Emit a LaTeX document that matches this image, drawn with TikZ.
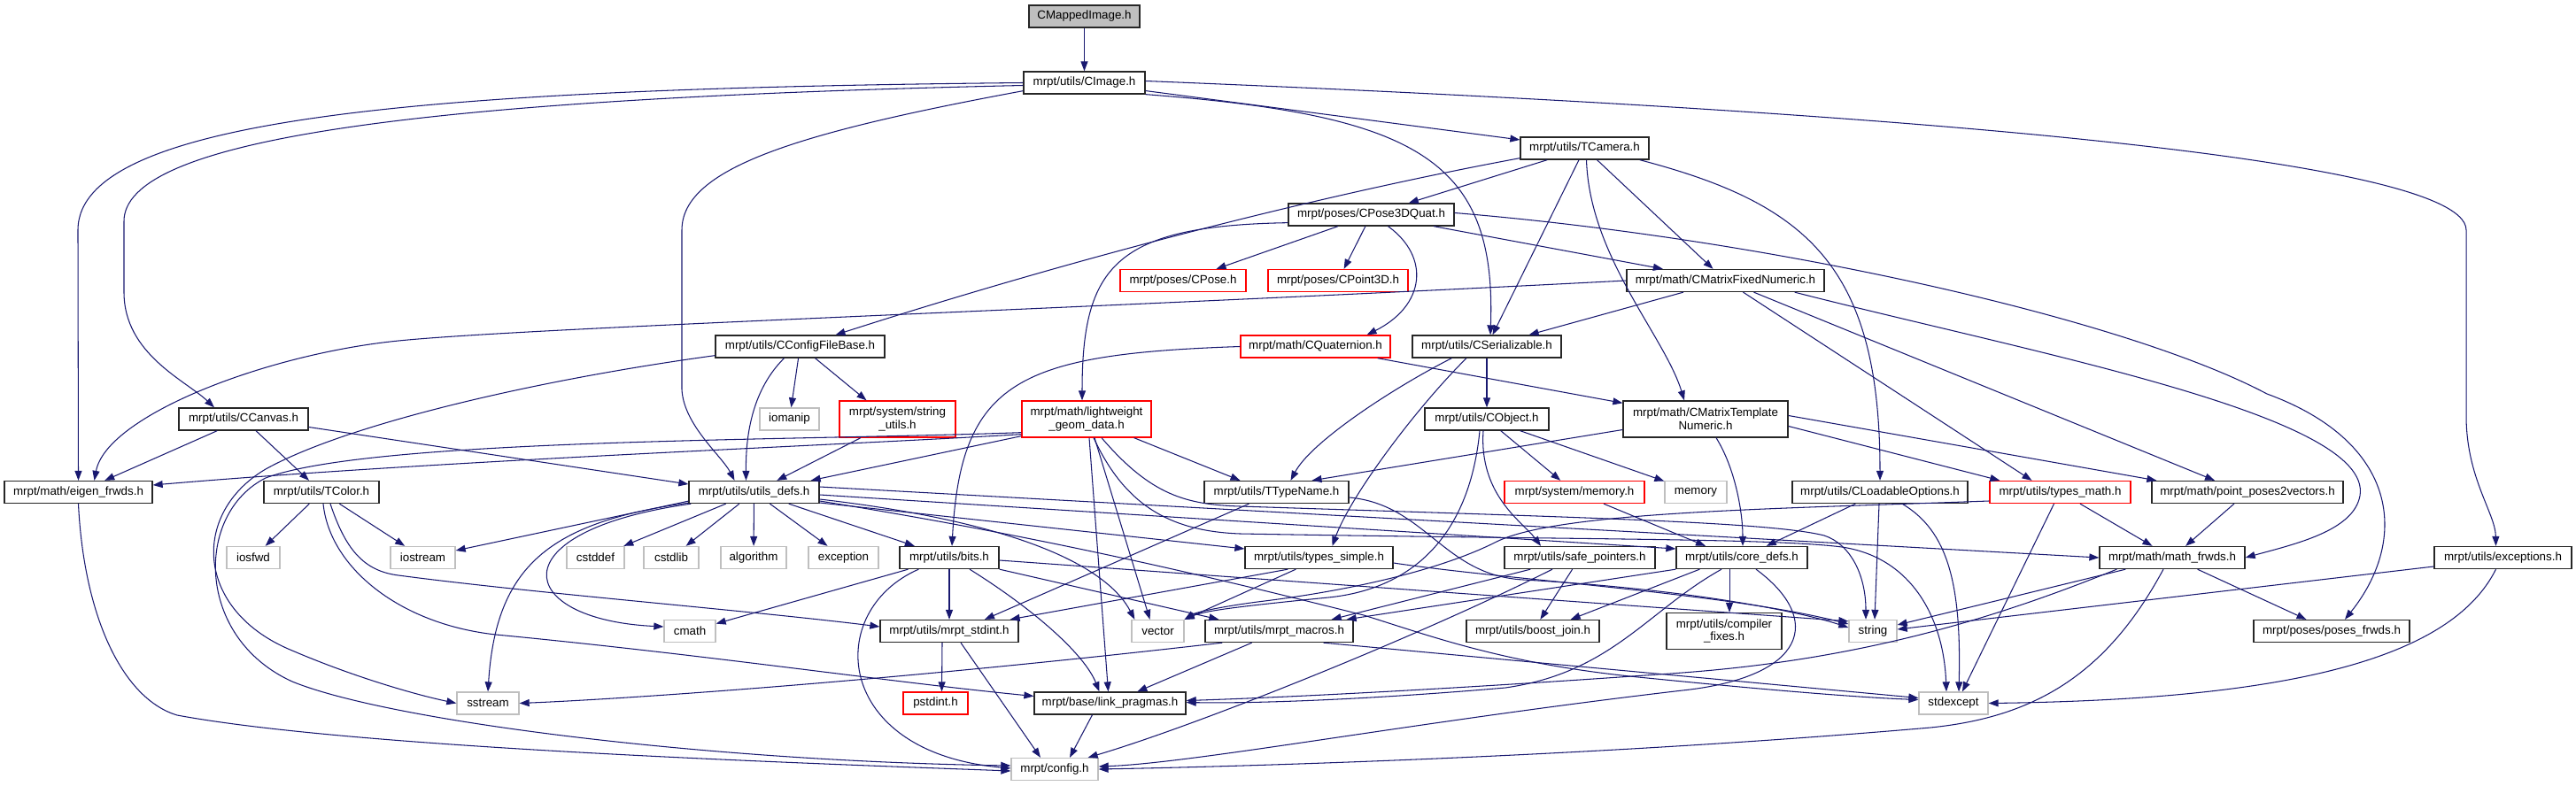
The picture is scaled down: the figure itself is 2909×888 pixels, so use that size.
\documentclass[tikz,border=0pt]{standalone}
\usepackage{fontspec}
\setmainfont{Liberation Sans}
\usetikzlibrary{arrows.meta,calc}
\definecolor{edgeblue}{HTML}{191970}
\definecolor{boxgray}{HTML}{BFBFBF}

\begin{document}
\begin{tikzpicture}[x=0.02cm,y=-0.02cm,
        font=\fontsize{7.6}{8.5}\selectfont,
        box/.style={draw, inner sep=0pt, minimum height=0.5cm, line width=0.75pt},
        hb/.style={box, draw=black!85, fill=white},
        rb/.style={box, draw=red, fill=white},
        sb/.style={box, draw=boxgray, fill=white},
        rt/.style={box, draw=black!85, fill=boxgray},
        two/.style={minimum height=0.82cm, align=center},
        bw/.style={minimum width=#1*0.02cm},
        dep/.style={draw=edgeblue, line width=0.6pt,
                        -{Triangle[length=0.22cm,width=0.16cm]}}]
    \useasboundingbox (0,0) rectangle (2909,888);

    \node[rt,bw=125] (root) at (1224.5,18.5) {CMappedImage.h};
    \node[hb,bw=137] (cimage) at (1224.5,93.5) {mrpt/utils/CImage.h};
    \node[hb,bw=145] (tcamera) at (1789.5,167.5) {mrpt/utils/TCamera.h};
    \node[hb,bw=187] (posequat) at (1548.5,242.5) {mrpt/poses/CPose3DQuat.h};
    \node[rb,bw=142] (cpose) at (1336,317) {mrpt/poses/CPose.h};
    \node[rb,bw=158] (cpoint) at (1511,317) {mrpt/poses/CPoint3D.h};
    \node[hb,bw=223] (cmatfix) at (1948.5,317) {mrpt/math/CMatrixFixedNumeric.h};
    \node[hb,bw=191] (cconfig) at (903.5,391.5) {mrpt/utils/CConfigFileBase.h};
    \node[rb,bw=169] (cquat) at (1485.5,391.5) {mrpt/math/CQuaternion.h};
    \node[hb,bw=168] (cserial) at (1679,391.5) {mrpt/utils/CSerializable.h};
    \node[hb,bw=146] (ccanvas) at (275,473.5) {mrpt/utils/CCanvas.h};
    \node[sb,bw=67] (iomanip) at (891.5,473.5) {iomanip};
    \node[rb,two,bw=131] (strutils) at (1013.5,473.5) {mrpt/system/string\\\_utils.h};
    \node[rb,two,bw=146] (lwgeom) at (1227,473.5) {mrpt/math/lightweight\\\_geom\_data.h};
    \node[hb,bw=140] (cobject) at (1679,473.5) {mrpt/utils/CObject.h};
    \node[hb,two,bw=186] (cmattpl) at (1926,473.5) {mrpt/math/CMatrixTemplate\\Numeric.h};
    \node[hb,bw=167] (eigen) at (88.5,556) {mrpt/math/eigen\_frwds.h};
    \node[hb,bw=130] (tcolor) at (363,556) {mrpt/utils/TColor.h};
    \node[hb,bw=147] (utilsdefs) at (851.5,556) {mrpt/utils/utils\_defs.h};
    \node[hb,bw=163] (ttypename) at (1441.5,556) {mrpt/utils/TTypeName.h};
    \node[rb,bw=158] (memoryh) at (1778,556) {mrpt/system/memory.h};
    \node[sb,bw=70] (memory) at (1915,556) {memory};
    \node[hb,bw=198] (cloadable) at (2123,556) {mrpt/utils/CLoadableOptions.h};
    \node[rb,bw=159] (typesmath) at (2326.5,556) {mrpt/utils/types\_math.h};
    \node[hb,bw=216] (pointposes) at (2538,556) {mrpt/math/point\_poses2vectors.h};
    \node[sb,bw=60] (iosfwd) at (286,630) {iosfwd};
    \node[sb,bw=73] (iostream) at (477.5,630) {iostream};
    \node[sb,bw=65] (cstddef) at (672.5,630) {cstddef};
    \node[sb,bw=62] (cstdlib) at (758,630) {cstdlib};
    \node[sb,bw=74] (algorithm) at (851,630) {algorithm};
    \node[sb,bw=79] (exception) at (952.5,630) {exception};
    \node[hb,bw=112] (bits) at (1072,630) {mrpt/utils/bits.h};
    \node[hb,bw=167] (typessimple) at (1489.5,630) {mrpt/utils/types\_simple.h};
    \node[hb,bw=170] (safeptr) at (1784,630) {mrpt/utils/safe\_pointers.h};
    \node[hb,bw=148] (coredefs) at (1967,630) {mrpt/utils/core\_defs.h};
    \node[hb,bw=164] (mathfrwds) at (2453,630) {mrpt/math/math\_frwds.h};
    \node[hb,bw=155] (exceptions) at (2826.5,630) {mrpt/utils/exceptions.h};
    \node[sb,bw=58] (cmath) at (779,713) {cmath};
    \node[hb,bw=156] (stdint) at (1072,713) {mrpt/utils/mrpt\_stdint.h};
    \node[sb,bw=59] (vector) at (1307.5,713) {vector};
    \node[hb,bw=167] (macros) at (1444.5,713) {mrpt/utils/mrpt\_macros.h};
    \node[hb,bw=150] (boostjoin) at (1731,713) {mrpt/utils/boost\_join.h};
    \node[hb,two,bw=130] (compfixes) at (1947,713) {mrpt/utils/compiler\\\_fixes.h};
    \node[sb,bw=54] (string) at (2115,713) {string};
    \node[hb,bw=176] (posesfrwds) at (2633,713) {mrpt/poses/poses\_frwds.h};
    \node[sb,bw=70] (sstream) at (551,794.5) {sstream};
    \node[rb,bw=73] (pstdint) at (1056.5,794.5) {pstdint.h};
    \node[hb,bw=171] (linkpragmas) at (1253.5,794.5) {mrpt/base/link\_pragmas.h};
    \node[sb,bw=78] (stdexcept) at (2206,794.5) {stdexcept};
    \node[sb,bw=98] (config) at (1191,869) {mrpt/config.h};

    % CMappedImage.h, CImage.h
    \draw[dep] (root) -- (cimage);
    \draw[dep] (cimage.west) .. controls (500,100) and (88,130) .. (88,260) -- (eigen.north);
    \draw[dep] ($(cimage.west)+(0,3)$) .. controls (450,112) and (140,160) .. (140,250) -- (140,330)
        .. controls (140,400) and (210,430) .. ($(ccanvas.north)+(-33,0)$);
    \draw[dep] ($(cimage.south west)+(0,-4)$) .. controls (900,150) and (770,190) .. (770,260) -- (770,440)
        .. controls (772,480) and (815,515) .. ($(utilsdefs.north)+(-22,0)$);
    \draw[dep] (cimage) -- (tcamera);
    \draw[dep] (cimage.south east) .. controls (1600,130) and (1690,180) .. ($(cserial.north)+(4,0)$);
    \draw[dep] ($(cimage.east)+(0,-2)$) .. controls (2000,120) and (2785,170) .. (2785,260) -- (2785,470)
        .. controls (2785,540) and (2818,580) .. ($(exceptions.north)+(-8,0)$);

    % TCamera.h, CPose3DQuat.h
    \draw[dep] ($(tcamera.south west)+(0,-2)$) .. controls (1520,215) and (1250,280) .. ($(cconfig.north)+(40,0)$);
    \draw[dep] (tcamera) -- (posequat);
    \draw[dep] (tcamera) -- (cserial);
    \draw[dep] ($(tcamera.south)+(2,0)$) .. controls (1795,290) and (1880,380) .. ($(cmattpl.north)+(-24,0)$);
    \draw[dep] (tcamera) -- (cmatfix);
    \draw[dep] ($(tcamera.south east)+(-11,0)$) .. controls (2040,230) and (2123,300) .. (cloadable.north);
    \draw[dep] (posequat) -- (cpose);
    \draw[dep] (posequat) -- (cpoint);
    \draw[dep] ($(posequat.south)+(19,0)$) .. controls (1615,290) and (1610,345) .. ($(cquat.north)+(58,0)$);
    \draw[dep] (posequat) -- (cmatfix);
    \draw[dep] ($(posequat.south west)+(0,-4)$) .. controls (1260,255) and (1222,300) .. ($(lwgeom.north)+(-5,0)$);
    \draw[dep] ($(posequat.east)+(0,-2)$) .. controls (2000,270) and (2400,360) .. (2560,445)
        .. controls (2710,500) and (2720,610) .. ($(posesfrwds.north)+(15,0)$);

    % matrices, quaternion, serializable
    \draw[dep] (cmatfix.west) .. controls (1200,350) and (600,370) .. (450,385)
        .. controls (300,400) and (120,470) .. ($(eigen.north)+(18,0)$);
    \draw[dep] (cmatfix) -- (cserial);
    \draw[dep] ($(cmatfix.south)+(20,0)$) -- ($(typesmath.north)+(-32,0)$);
    \draw[dep] ($(cmatfix.south)+(32,0)$) -- ($(pointposes.north)+(-37,0)$);
    \draw[dep] ($(cmatfix.south east)+(-34,0)$) .. controls (2300,400) and (2680,470) .. (2665,560)
        .. controls (2658,600) and (2590,615) .. (mathfrwds.east);
    \draw[dep] (cquat.west) .. controls (1150,400) and (1085,430) .. ($(bits.north)+(3,0)$);
    \draw[dep] ($(cquat.south east)+(-15,0)$) -- ($(cmattpl.north west)+(0,3)$);
    \draw[dep] ($(cserial.south west)+(45,0)$) .. controls (1570,440) and (1480,500) .. ($(ttypename.north)+(16,0)$);
    \draw[dep] ($(cserial.south)+(-23,0)$) .. controls (1600,460) and (1525,560) .. ($(typessimple.north)+(15,0)$);
    \draw[dep] (cserial) -- (cobject);
    \draw[dep] ($(cmattpl.west)+(0,12)$) -- ($(ttypename.north)+(40,0)$);
    \draw[dep] ($(cmattpl.south)+(12,0)$) .. controls (1960,530) and (1968,580) .. ($(coredefs.north)+(1,0)$);
    \draw[dep] ($(cmattpl.east)+(0,-4)$) -- ($(pointposes.north west)+(6,0)$);
    \draw[dep] ($(cmattpl.east)+(0,8)$) -- ($(typesmath.north west)+(12,0)$);

    % config file, canvas, colour
    \draw[dep] (cconfig) -- (iomanip);
    \draw[dep] ($(cconfig.south)+(17,0)$) -- ($(strutils.north)+(-35,0)$);
    \draw[dep] ($(cconfig.south)+(-18,0)$) .. controls (850,440) and (842,490) .. ($(utilsdefs.north)+(-9,0)$);
    \draw[dep] ($(cconfig.south west)+(0,-3)$) .. controls (600,430) and (390,480) .. (300,530)
        .. controls (215,580) and (220,690) .. (330,735) .. controls (400,765) and (470,785) .. (sstream.west);
    \draw[dep] (strutils) -- (utilsdefs);
    \draw[dep] (ccanvas) -- (eigen);
    \draw[dep] (ccanvas) -- (tcolor);
    \draw[dep] ($(ccanvas.east)+(0,9)$) -- ($(utilsdefs.west)+(0,-9)$);
    \draw[dep] (tcolor) -- (iosfwd);
    \draw[dep] (tcolor) -- (iostream);
    \draw[dep] ($(tcolor.south)+(10,0)$) .. controls (390,620) and (410,645) .. (450,650)
        .. controls (600,670) and (850,690) .. ($(stdint.west)+(0,-5)$);
    \draw[dep] ($(tcolor.south)+(2,0)$) .. controls (372,640) and (450,705) .. (560,717)
        .. controls (800,740) and (1000,770) .. ($(linkpragmas.west)+(0,-8)$);

    % lightweight_geom_data.h
    \draw[dep] ($(lwgeom.south west)+(0,-4)$) .. controls (950,503) and (500,520) .. ($(eigen.east)+(0,-8)$);
    \draw[dep] ($(lwgeom.south west)+(0,-6)$) .. controls (900,498) and (420,495) .. (300,540)
        .. controls (220,580) and (220,720) .. (330,770) .. controls (440,815) and (800,860) .. ($(config.west)+(0,-4)$);
    \draw[dep] ($(lwgeom.south west)+(0,-2)$) -- ($(utilsdefs.north east)+(-10,0)$);
    \draw[dep] ($(lwgeom.south east)+(-20,0)$) -- ($(ttypename.north)+(-41,0)$);
    \draw[dep] ($(lwgeom.south)+(3,0)$) -- ($(linkpragmas.north)+(-2,0)$);
    \draw[dep] ($(lwgeom.south)+(9,0)$) -- ($(vector.north)+(-9,0)$);
    \draw[dep] ($(lwgeom.south)+(17,0)$) .. controls (1300,560) and (1340,570) .. (1400,572)
        .. controls (1800,585) and (2000,590) .. (2060,605) .. controls (2090,615) and (2107,650) .. ($(string.north)+(-8,0)$);
    \draw[dep] ($(lwgeom.south)+(8,0)$) .. controls (1270,570) and (1320,600) .. (1400,603)
        .. controls (1800,610) and (2000,608) .. (2080,618) .. controls (2160,630) and (2195,700) .. ($(stdexcept.north)+(-8,0)$);

    % third row
    \draw[dep] ($(ttypename.south)+(-31,0)$) -- ($(stdint.north)+(40,0)$);
    \draw[dep] ($(ttypename.east)+(0,6)$) .. controls (1610,570) and (1630,650) .. (1720,655)
        .. controls (1900,665) and (2030,690) .. ($(string.west)+(0,-4)$);
    \draw[dep] (cobject) -- (memoryh);
    \draw[dep] (cobject) -- (memory);
    \draw[dep] ($(cobject.south)+(-4,0)$) .. controls (1670,560) and (1720,590) .. ($(safeptr.north)+(-44,0)$);
    \draw[dep] ($(cobject.south)+(-8,0)$) .. controls (1660,600) and (1600,665) .. (1500,675)
        .. controls (1400,685) and (1360,690) .. (vector.north east);
    \draw[dep] ($(memoryh.south)+(33,0)$) -- ($(coredefs.north)+(-41,0)$);
    \draw[dep] (cloadable) -- (coredefs);
    \draw[dep] ($(cloadable.south)+(-1,0)$) -- ($(string.north)+(2,0)$);
    \draw[dep] ($(cloadable.south)+(25,0)$) .. controls (2200,600) and (2215,660) .. ($(stdexcept.north)+(6,0)$);
    \draw[dep] (typesmath) -- (mathfrwds);
    \draw[dep] ($(typesmath.south)+(-7,0)$) -- ($(stdexcept.north)+(10,0)$);
    \draw[dep] ($(typesmath.west)+(0,10)$) .. controls (2000,575) and (1760,578) .. (1690,612)
        .. controls (1625,645) and (1520,668) .. (1420,680) .. controls (1375,686) and (1350,692) .. (vector.north east);
    \draw[dep] (pointposes) -- (mathfrwds);
    \draw[dep] ($(mathfrwds.south west)+(30,0)$) -- ($(string.east)+(0,-7)$);
    \draw[dep] ($(mathfrwds.south west)+(20,0)$) .. controls (2250,700) and (2100,745) .. (1900,760)
        .. controls (1650,778) and (1450,788) .. ($(linkpragmas.east)+(0,-3)$);
    \draw[dep] ($(mathfrwds.south)+(-10,0)$) .. controls (2380,760) and (2300,810) .. (2180,822)
        .. controls (1800,855) and (1400,866) .. (config.east);
    \draw[dep] (mathfrwds) -- (posesfrwds);
    \draw[dep] ($(exceptions.west)+(0,10)$) -- ($(string.east)+(0,-2)$);
    \draw[dep] ($(exceptions.south)+(-8,0)$) .. controls (2770,740) and (2600,790) .. (stdexcept.east);

    % utils_defs.h
    \draw[dep] (utilsdefs) -- (cstddef);
    \draw[dep] (utilsdefs) -- (cstdlib);
    \draw[dep] (utilsdefs) -- (algorithm);
    \draw[dep] (utilsdefs) -- (exception);
    \draw[dep] (utilsdefs) -- (bits);
    \draw[dep] ($(utilsdefs.south west)+(0,-3)$) -- ($(iostream.east)+(0,-8)$);
    \draw[dep] ($(utilsdefs.south west)+(0,-1)$) .. controls (620,590) and (560,640) .. (sstream.north);
    \draw[dep] ($(utilsdefs.south west)+(3,0)$) .. controls (560,600) and (580,700) .. ($(cmath.west)+(0,-5)$);
    \draw[dep] ($(utilsdefs.east)+(0,8)$) .. controls (1150,590) and (1250,640) .. ($(vector.north west)+(4,0)$);
    \draw[dep] ($(utilsdefs.east)+(0,12)$) -- ($(typessimple.west)+(0,-10)$);
    \draw[dep] ($(utilsdefs.east)+(0,3)$) -- ($(coredefs.west)+(0,-10)$);
    \draw[dep] ($(utilsdefs.east)+(0,-6)$) -- (mathfrwds.west);
    \draw[dep] ($(utilsdefs.east)+(0,10)$) .. controls (1200,610) and (1400,660) .. (1540,695)
        .. controls (1620,720) and (1700,750) .. (1850,765) .. controls (2000,780) and (2100,788) .. ($(stdexcept.west)+(0,-4)$);

    % fourth row
    \draw[dep] (bits) -- (cmath);
    \draw[dep] (bits) -- (stdint);
    \draw[dep] ($(bits.south)+(23,0)$) .. controls (1170,690) and (1225,740) .. ($(linkpragmas.north)+(-12,0)$);
    \draw[dep] ($(bits.south west)+(22,0)$) .. controls (930,690) and (940,850) .. ($(config.west)+(0,-1)$);
    \draw[dep] ($(bits.east)+(0,3)$) -- ($(string.north west)+(0,2)$);
    \draw[dep] (bits.south east) -- ($(macros.north west)+(16,0)$);
    \draw[dep] ($(typessimple.south west)+(49,0)$) -- ($(stdint.north east)+(-10,0)$);
    \draw[dep] ($(typessimple.south west)+(58,0)$) -- (vector.north east);
    \draw[dep] ($(typessimple.east)+(0,6)$) .. controls (1700,655) and (1950,670) .. ($(string.west)+(0,-8)$);
    \draw[dep] ($(safeptr.south west)+(30,0)$) -- ($(macros.north east)+(-25,0)$);
    \draw[dep] (safeptr) -- (boostjoin);
    \draw[dep] ($(safeptr.south)+(-31,0)$) .. controls (1600,720) and (1350,820) .. ($(config.north east)+(-12,0)$);
    \draw[dep] (coredefs.south west) -- ($(macros.north east)+(-8,0)$);
    \draw[dep] ($(coredefs.south west)+(27,0)$) -- ($(boostjoin.north east)+(-33,0)$);
    \draw[dep] ($(coredefs.south)+(-14,0)$) -- ($(compfixes.north)+(6,0)$);
    \draw[dep] ($(coredefs.south)+(-23,0)$) .. controls (1860,690) and (1820,760) .. (1700,777)
        .. controls (1550,790) and (1420,795) .. ($(linkpragmas.east)+(0,-1)$);
    \draw[dep] ($(coredefs.south)+(16,0)$) .. controls (2060,700) and (2040,765) .. (1900,780)
        .. controls (1600,815) and (1350,862) .. ($(config.east)+(0,-3)$);
    \draw[dep] ($(macros.south west)+(20,0)$) .. controls (1000,770) and (700,790) .. (sstream.east);
    \draw[dep] (macros) -- (linkpragmas);
    \draw[dep] ($(macros.south)+(50,0)$) -- ($(stdexcept.west)+(0,-6)$);
    \draw[dep] ($(stdint.south)+(-8,0)$) -- ($(pstdint.north)+(7,0)$);
    \draw[dep] ($(stdint.south)+(13,0)$) -- ($(config.north)+(-16,0)$);
    \draw[dep] ($(linkpragmas.south)+(-20,0)$) -- ($(config.north)+(17,0)$);
    \draw[dep] (eigen.south) .. controls (95,700) and (140,790) .. (200,808)
        .. controls (400,845) and (900,862) .. ($(config.west)+(0,2)$);
\end{tikzpicture}
\end{document}
